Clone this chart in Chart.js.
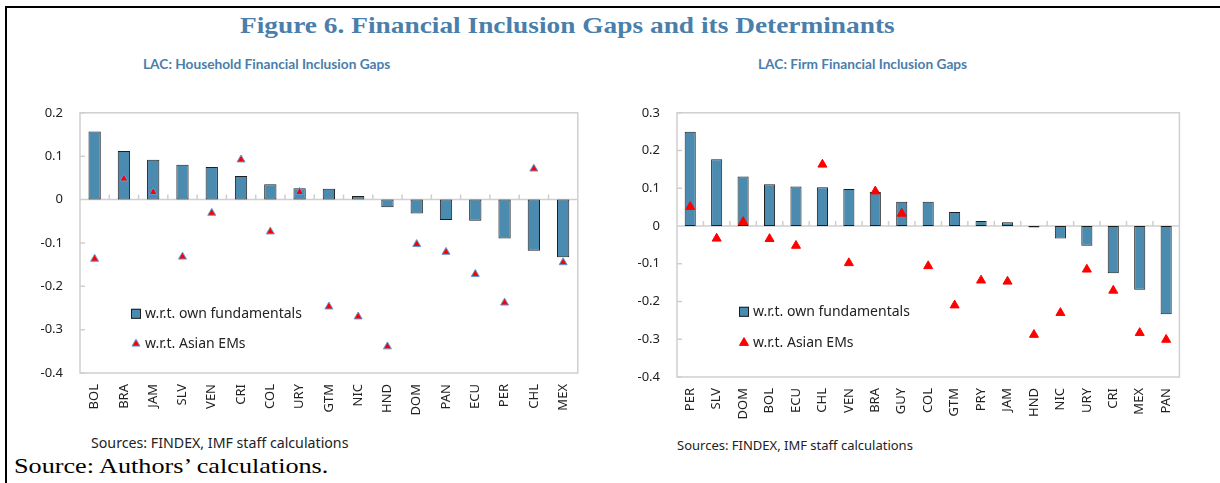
<!DOCTYPE html>
<html>
<head>
<meta charset="utf-8">
<script src="https://cdn.jsdelivr.net/npm/chart.js@4/dist/chart.umd.min.js"></script>
<style>
  body { margin: 0; background: #fff; width: 1220px; height: 483px; position: relative; overflow: hidden; }
  .frame-top { position: absolute; left: 5px; top: 6px; width: 1215px; height: 2px; background: #000; }
  .frame-left { position: absolute; left: 5px; top: 6px; width: 2px; height: 477px; background: #000; }
  .title { position: absolute; left: 240px; top: 12px; white-space: nowrap; transform-origin: 0 0; transform: scaleX(1.14);
    font: bold 24px "Liberation Serif", serif; color: #4a7eab; }
  .sub { position: absolute; top: 55px; font: bold 13.7px Lato, sans-serif; color: #4a7eab; white-space: nowrap; }
  .src { position: absolute; font-family: "Noto Sans", sans-serif; color: #222; white-space: nowrap; }
  .foot { position: absolute; left: 14px; top: 453px; white-space: nowrap; transform-origin: 0 0; transform: scaleX(1.19);
    font: 22px "Liberation Serif", serif; color: #000; }
  canvas { position: absolute; }
</style>
</head>
<body>
<div class="frame-top"></div>
<div class="frame-left"></div>
<div class="title">Figure 6. Financial Inclusion Gaps and its Determinants</div>
<div class="sub" style="left:143px">LAC: Household Financial Inclusion Gaps</div>
<div class="sub" style="left:758px">LAC: Firm Financial Inclusion Gaps</div>
<div class="src" style="left:91px; top:433px; font-size:14.2px">Sources: FINDEX, IMF staff calculations</div>
<div class="src" style="left:677px; top:436px; font-size:13px">Sources: FINDEX, IMF staff calculations</div>
<div class="foot">Source: Authors’ calculations.</div>

<canvas id="hh" style="left:20px; top:88px; width:570px; height:332px"></canvas>
<canvas id="firm" style="left:617px; top:88px; width:576px; height:336px"></canvas>

<script>
// household chart data
const hhCountries = ['BOL','BRA','JAM','SLV','VEN','CRI','COL','URY','GTM','NIC','HND','DOM','PAN','ECU','PER','CHL','MEX'];
const hhOwn = [0.157,0.112,0.092,0.080,0.075,0.054,0.035,0.026,0.025,0.008,-0.018,-0.032,-0.047,-0.049,-0.090,-0.118,-0.133];
const hhAsian = [-0.137,0.048,0.017,-0.132,-0.031,0.092,-0.074,0.017,-0.247,-0.270,-0.339,-0.103,-0.121,-0.172,-0.238,0.071,-0.145];
const hhTicks = [0.2,0.1,0,-0.1,-0.2,-0.3,-0.4];

// firm chart data
const firmCountries = ['PER','SLV','DOM','BOL','ECU','CHL','VEN','BRA','GUY','COL','GTM','PRY','JAM','HND','NIC','URY','CRI','MEX','PAN'];
const firmOwn = [0.250,0.177,0.131,0.111,0.105,0.103,0.098,0.090,0.064,0.064,0.037,0.013,0.010,-0.004,-0.033,-0.052,-0.125,-0.169,-0.234];
const firmAsian = [0.051,-0.033,0.011,-0.034,-0.052,0.163,-0.098,0.092,0.033,-0.106,-0.210,-0.144,-0.147,-0.288,-0.230,-0.115,-0.171,-0.283,-0.301];
const firmTicks = [0.3,0.2,0.1,0,-0.1,-0.2,-0.3,-0.4];

const seriesNames = ['w.r.t. own fundamentals', 'w.r.t. Asian EMs'];
const barColor = '#4b8bb0';
const gridGray = '#cfcfcf';
const tickFont = { family: 'Noto Sans', size: 13 };

// plot frame, zero line and the small inward ticks
const framePlugin = {
  id: 'frame',
  beforeDatasetsDraw(chart) {
    const { ctx, chartArea: a, scales: { x, y } } = chart;
    ctx.save();
    ctx.strokeStyle = gridGray;
    ctx.lineWidth = 1.5;
    ctx.strokeRect(a.left, a.top, a.right - a.left, a.bottom - a.top);
    const y0 = y.getPixelForValue(0);
    ctx.beginPath();
    ctx.moveTo(a.left, y0); ctx.lineTo(a.right, y0);
    y.ticks.forEach(t => {
      const py = y.getPixelForValue(t.value);
      ctx.moveTo(a.left, py); ctx.lineTo(a.left + 5, py);
    });
    const n = chart.data.labels.length;
    for (let i = 1; i < n; i++) {
      const px = (x.getPixelForValue(i - 1) + x.getPixelForValue(i)) / 2;
      ctx.moveTo(px, y0); ctx.lineTo(px, y0 - 5);
    }
    ctx.stroke();
    ctx.restore();
  }
};

// legend drawn inside the plot
const innerLegend = {
  id: 'innerLegend',
  afterDraw(chart, args, opts) {
    const { ctx, chartArea: a } = chart;
    const bar = chart.data.datasets[1];
    const tri = chart.data.datasets[0];
    const lx = a.left + opts.dx, ly = a.top + opts.dy;
    ctx.save();
    ctx.fillStyle = bar.backgroundColor;
    ctx.strokeStyle = bar.borderColor;
    ctx.lineWidth = 1;
    ctx.fillRect(lx, ly - 5, 10, 10);
    ctx.strokeRect(lx + 0.5, ly - 4.5, 9, 9);
    ctx.fillStyle = tri.pointBackgroundColor;
    ctx.strokeStyle = tri.pointBorderColor;
    ctx.beginPath();
    Chart.helpers.drawPoint(ctx, { pointStyle: 'triangle', radius: tri.pointRadius, borderWidth: tri.pointBorderWidth }, lx + 5, ly + opts.gap);
    ctx.fillStyle = '#222';
    ctx.font = '14px "Noto Sans"';
    ctx.textBaseline = 'middle';
    ctx.fillText(bar.label, lx + 14, ly);
    ctx.fillText(tri.label, lx + 14, ly + opts.gap);
    ctx.restore();
  }
};

function makeChart(id, labels, own, asian, ticks, opt) {
  return new Chart(document.getElementById(id), {
    data: {
      labels: labels,
      datasets: [
        {
          type: 'line',
          label: seriesNames[1],
          data: asian,
          showLine: false,
          pointStyle: 'triangle',
          pointRadius: opt.triR,
          pointBackgroundColor: '#ff0000',
          pointBorderColor: opt.triBorder,
          pointBorderWidth: 1,
          order: 1
        },
        {
          type: 'bar',
          label: seriesNames[0],
          data: own,
          backgroundColor: barColor,
          borderColor: '#1e1e1e',
          borderWidth: 1,
          borderSkipped: false,
          barPercentage: 0.42,
          categoryPercentage: 1,
          order: 2
        }
      ]
    },
    options: {
      responsive: false,
      animation: false,
      layout: { padding: { top: opt.padTop, right: 9, left: 0, bottom: 0 } },
      plugins: {
        legend: { display: false },
        tooltip: { enabled: false },
        innerLegend: opt.legend
      },
      scales: {
        x: {
          grid: { display: false, drawTicks: false },
          border: { display: false },
          ticks: { font: tickFont, color: '#222', maxRotation: 90, minRotation: 90, padding: 11, autoSkip: false },
          afterFit: s => { s.height = opt.xH; }
        },
        y: {
          min: ticks[ticks.length - 1],
          max: ticks[0],
          grid: { display: false, drawTicks: false },
          border: { display: false },
          afterBuildTicks: s => { s.ticks = ticks.map(v => ({ value: v })); },
          ticks: {
            font: tickFont, color: '#222', padding: 17,
            callback: v => v === 0 ? '0' : v.toFixed(1)
          },
          afterFit: s => { s.width = 60; }
        }
      }
    },
    plugins: [framePlugin, innerLegend]
  });
}

function sizeCanvas(id) {
  const c = document.getElementById(id);
  c.width = parseInt(c.style.width);
  c.height = parseInt(c.style.height);
}
sizeCanvas('hh');
sizeCanvas('firm');

makeChart('hh', hhCountries, hhOwn, hhAsian, hhTicks, {
  triR: 4.6, triBorder: '#5b9bd5', padTop: 1, xH: 47,
  legend: { dx: 51, dy: 201, gap: 30 }
});
makeChart('firm', firmCountries, firmOwn, firmAsian, firmTicks, {
  triR: 5.2, triBorder: '#ff0000', padTop: 1, xH: 47,
  legend: { dx: 62, dy: 199, gap: 31 }
});
</script>
</body>
</html>
